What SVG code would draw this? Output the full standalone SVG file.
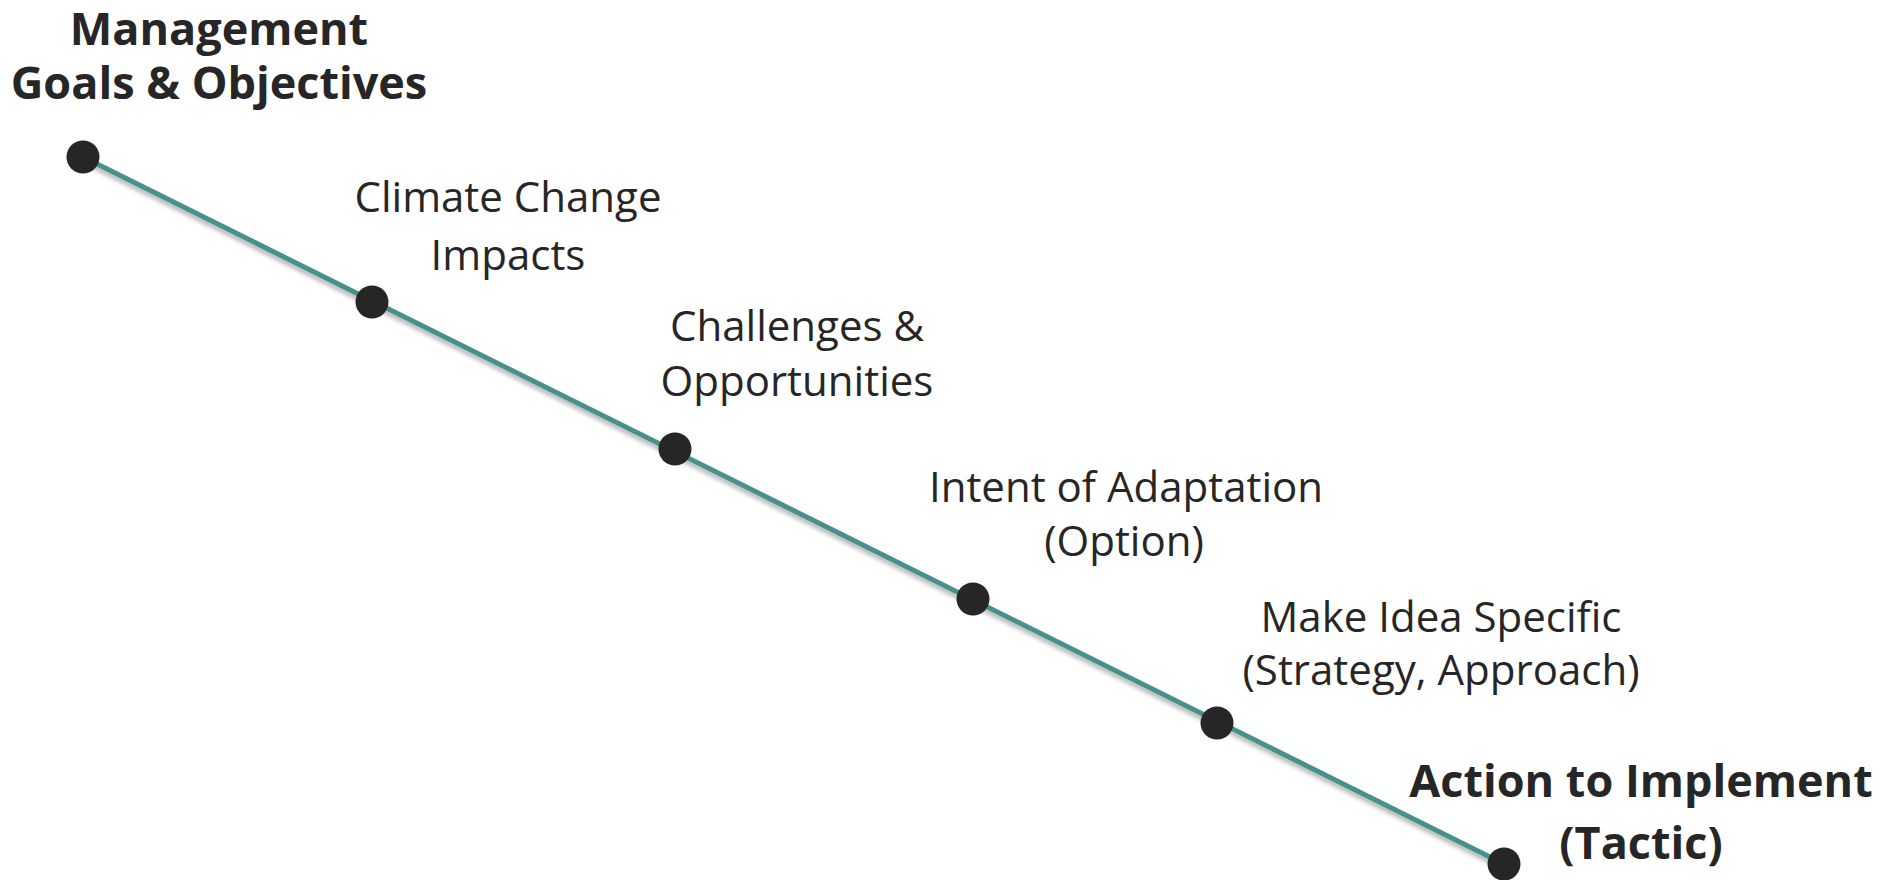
<svg xmlns="http://www.w3.org/2000/svg" width="1885" height="880" viewBox="0 0 1885 880">
<defs>
<style>
.lbl{font-family:"Open Sans","Noto Sans","Liberation Sans",sans-serif;fill:#262626;text-anchor:middle;font-variant-ligatures:none}
.reg{font-size:42px;font-weight:400}
.bold{font-size:45px;font-weight:700}
.dot{fill:#262626}
.conn{stroke:#46918a;stroke-width:5;fill:none;stroke-linecap:butt}
</style>
<filter id="sh" x="-5%" y="-20%" width="110%" height="140%">
<feGaussianBlur in="SourceAlpha" stdDeviation="2.5"/>
<feOffset dx="1" dy="4" result="b"/>
<feComponentTransfer in="b" result="c"><feFuncA type="linear" slope="0.35"/></feComponentTransfer>
<feMerge><feMergeNode in="c"/><feMergeNode in="SourceGraphic"/></feMerge>
</filter>
</defs>
<rect width="1885" height="880" fill="#ffffff"/>
<g id="connectors">
<line class="conn" x1="83" y1="157" x2="1504" y2="864" filter="url(#sh)"/>
</g>
<g id="n1"><circle class="dot" cx="83" cy="157" r="16.5"/>
<text class="lbl bold" x="219" y="45">Management</text>
<text class="lbl bold" x="219" y="99">Goals &amp; Objectives</text></g>
<g id="n2"><circle class="dot" cx="372" cy="302" r="16.5"/>
<text class="lbl reg" x="508" y="212">Climate Change</text>
<text class="lbl reg" x="508" y="270">Impacts</text></g>
<g id="n3"><circle class="dot" cx="675" cy="449" r="16.5"/>
<text class="lbl reg" x="797" y="341">Challenges &amp;</text>
<text class="lbl reg" x="797" y="396">Opportunities</text></g>
<g id="n4"><circle class="dot" cx="973" cy="599" r="16.5"/>
<text class="lbl reg" x="1126" y="502">Intent of Adaptation</text>
<text class="lbl reg" x="1124" y="556">(Option)</text></g>
<g id="n5"><circle class="dot" cx="1217" cy="723" r="16.5"/>
<text class="lbl reg" x="1441" y="632">Make Idea Specific</text>
<text class="lbl reg" x="1441" y="685">(Strategy, Approach)</text></g>
<g id="n6"><circle class="dot" cx="1504" cy="864" r="16.5"/>
<text class="lbl bold" x="1641" y="797">Action to Implement</text>
<text class="lbl bold" x="1641" y="859">(Tactic)</text></g>
</svg>
